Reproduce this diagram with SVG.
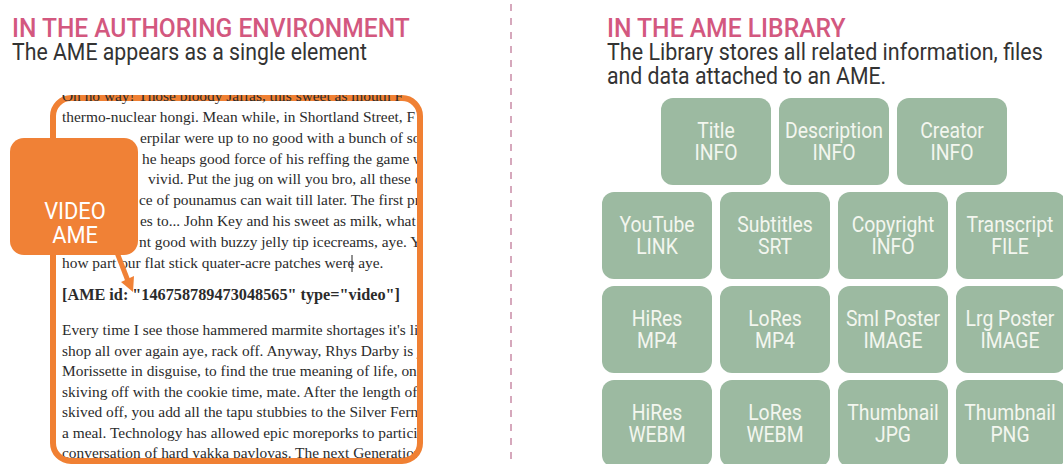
<svg xmlns="http://www.w3.org/2000/svg" width="1063" height="464" viewBox="0 0 1063 464">
<style>
.h{font-family:Roboto,"Liberation Sans",sans-serif;font-size:26px;font-weight:500;fill:#D3587F}
.s{font-family:Roboto,"Liberation Sans",sans-serif;font-size:23px;fill:#333333}
.p{font-family:"Liberation Serif","DejaVu Serif",serif;font-size:15.4px;fill:#2b2b2b}
.pb{font-family:"Liberation Serif","DejaVu Serif",serif;font-size:16px;font-weight:bold;fill:#2b2b2b}
.box{fill:#9CBAA1}
.bl{font-family:Roboto,"Liberation Sans",sans-serif;font-size:22px;fill:#F3F6EF;text-anchor:middle}
.cl{font-family:Roboto,"Liberation Sans",sans-serif;font-size:23px;fill:#FFFFFF;text-anchor:middle}
</style>
<defs>
<clipPath id="doc"><rect x="56" y="101" width="361" height="357"/></clipPath>
<clipPath id="topline"><rect x="56" y="95" width="361" height="9"/></clipPath>
</defs>
<rect x="0" y="0" width="1063" height="464" fill="#FFFFFF"/>

<g id="left-heading">
<text class="h" transform="translate(12,37) scale(0.945,1)">IN THE AUTHORING ENVIRONMENT</text>
<text class="s" transform="translate(12,60) scale(0.925,1)">The AME appears as a single element</text>
</g>

<g id="right-heading">
<text class="h" transform="translate(607,37) scale(0.95,1)">IN THE AME LIBRARY</text>
<text class="s" transform="translate(607,60) scale(0.935,1)">The Library stores all related information, files</text>
<text class="s" transform="translate(607,84) scale(0.925,1)">and data attached to an AME.</text>
</g>

<line id="divider" x1="511" y1="4" x2="511" y2="464" stroke="#C98CA6" stroke-width="1.5" stroke-dasharray="7 7"/>

<g id="document">
<g clip-path="url(#doc)">
<text class="p" x="62" y="122">thermo-nuclear hongi. Mean while, in Shortland Street, F</text>
<text class="p" x="140" y="143">erpilar were up to no good with a bunch of sol</text>
<text class="p" x="142" y="164">he heaps good force of his reffing the game wa</text>
<text class="p" x="148" y="184">vivid. Put the jug on will you bro, all these outr</text>
<text class="p" x="139" y="205">ce of pounamus can wait till later. The first pr</text>
<text class="p" x="140" y="226">es to... John Key and his sweet as milk, what</text>
<text class="p" x="139" y="247">nt good with buzzy jelly tip icecreams, aye. Yo</text>
<text class="p" x="62" y="268">how part our flat stick quater-acre patches were aye.</text>
<text class="pb" x="62" y="300" textLength="338" lengthAdjust="spacingAndGlyphs">[AME id: "146758789473048565" type="video"]</text>
<text class="p" x="62" y="335">Every time I see those hammered marmite shortages it's lik</text>
<text class="p" x="62" y="355.5">shop all over again aye, rack off. Anyway, Rhys Darby is ju</text>
<text class="p" x="62" y="376">Morissette in disguise, to find the true meaning of life, one</text>
<text class="p" x="62" y="396.5">skiving off with the cookie time, mate. After the length of r</text>
<text class="p" x="62" y="417">skived off, you add all the tapu stubbies to the Silver Fern y</text>
<text class="p" x="62" y="437.5">a meal. Technology has allowed epic moreporks to particip</text>
<text class="p" x="62" y="458">conversation of hard yakka pavlovas. The next Generation</text>
</g>
<line x1="352" y1="255" x2="352" y2="272" stroke="#222222" stroke-width="1"/>
<rect x="53" y="98" width="367" height="363" rx="18" fill="none" stroke="#F08033" stroke-width="6"/>
<g clip-path="url(#topline)">
<text class="p" x="62" y="101">Oh no way! Those bloody Jaffas, this sweet as mouth F</text>
</g>
</g>

<g id="video-ame-callout">
<rect x="10" y="138" width="128" height="117" rx="14" fill="#F08136"/>
<text class="cl" transform="translate(75,219) scale(0.95,1)">VIDEO</text>
<text class="cl" transform="translate(75,243) scale(0.95,1)">AME</text>
</g>

<g id="connectors">
<line x1="116" y1="250" x2="128" y2="281" stroke="#F08136" stroke-width="5"/>
<polygon points="133,292 134,276 121,282" fill="#F08136"/>
</g>

<g id="box-title"><rect class="box" x="661" y="98" width="110" height="87" rx="12"/><text class="bl" transform="translate(716,138) scale(0.88,1)">Title</text><text class="bl" transform="translate(716,160) scale(0.88,1)">INFO</text></g>
<g id="box-description"><rect class="box" x="779" y="98" width="110" height="87" rx="12"/><text class="bl" transform="translate(834,138) scale(0.88,1)">Description</text><text class="bl" transform="translate(834,160) scale(0.88,1)">INFO</text></g>
<g id="box-creator"><rect class="box" x="897" y="98" width="110" height="87" rx="12"/><text class="bl" transform="translate(952,138) scale(0.88,1)">Creator</text><text class="bl" transform="translate(952,160) scale(0.88,1)">INFO</text></g>

<g id="box-youtube"><rect class="box" x="602" y="192" width="110" height="87" rx="12"/><text class="bl" transform="translate(657,232) scale(0.88,1)">YouTube</text><text class="bl" transform="translate(657,254) scale(0.88,1)">LINK</text></g>
<g id="box-subtitles"><rect class="box" x="720" y="192" width="110" height="87" rx="12"/><text class="bl" transform="translate(775,232) scale(0.88,1)">Subtitles</text><text class="bl" transform="translate(775,254) scale(0.88,1)">SRT</text></g>
<g id="box-copyright"><rect class="box" x="838" y="192" width="110" height="87" rx="12"/><text class="bl" transform="translate(893,232) scale(0.88,1)">Copyright</text><text class="bl" transform="translate(893,254) scale(0.88,1)">INFO</text></g>
<g id="box-transcript"><rect class="box" x="956" y="192" width="110" height="87" rx="12"/><text class="bl" transform="translate(1010,232) scale(0.88,1)">Transcript</text><text class="bl" transform="translate(1010,254) scale(0.88,1)">FILE</text></g>

<g id="box-hires-mp4"><rect class="box" x="602" y="286" width="110" height="87" rx="12"/><text class="bl" transform="translate(657,326) scale(0.88,1)">HiRes</text><text class="bl" transform="translate(657,348) scale(0.88,1)">MP4</text></g>
<g id="box-lores-mp4"><rect class="box" x="720" y="286" width="110" height="87" rx="12"/><text class="bl" transform="translate(775,326) scale(0.88,1)">LoRes</text><text class="bl" transform="translate(775,348) scale(0.88,1)">MP4</text></g>
<g id="box-sml-poster"><rect class="box" x="838" y="286" width="110" height="87" rx="12"/><text class="bl" transform="translate(893,326) scale(0.88,1)">Sml Poster</text><text class="bl" transform="translate(893,348) scale(0.88,1)">IMAGE</text></g>
<g id="box-lrg-poster"><rect class="box" x="956" y="286" width="110" height="87" rx="12"/><text class="bl" transform="translate(1010,326) scale(0.88,1)">Lrg Poster</text><text class="bl" transform="translate(1010,348) scale(0.88,1)">IMAGE</text></g>

<g id="box-hires-webm"><rect class="box" x="602" y="380" width="110" height="87" rx="12"/><text class="bl" transform="translate(657,420) scale(0.88,1)">HiRes</text><text class="bl" transform="translate(657,442) scale(0.88,1)">WEBM</text></g>
<g id="box-lores-webm"><rect class="box" x="720" y="380" width="110" height="87" rx="12"/><text class="bl" transform="translate(775,420) scale(0.88,1)">LoRes</text><text class="bl" transform="translate(775,442) scale(0.88,1)">WEBM</text></g>
<g id="box-thumb-jpg"><rect class="box" x="838" y="380" width="110" height="87" rx="12"/><text class="bl" transform="translate(893,420) scale(0.88,1)">Thumbnail</text><text class="bl" transform="translate(893,442) scale(0.88,1)">JPG</text></g>
<g id="box-thumb-png"><rect class="box" x="956" y="380" width="110" height="87" rx="12"/><text class="bl" transform="translate(1010,420) scale(0.88,1)">Thumbnail</text><text class="bl" transform="translate(1010,442) scale(0.88,1)">PNG</text></g>
</svg>
